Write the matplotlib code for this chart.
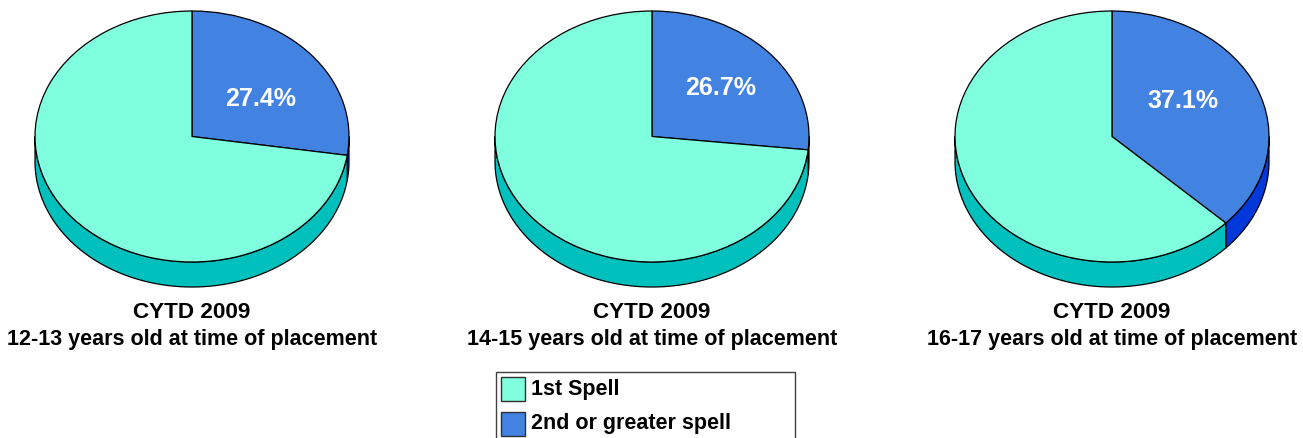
import numpy as np
import matplotlib
matplotlib.use("Agg")
import matplotlib.pyplot as plt
from matplotlib.patches import Rectangle, Polygon

plt.rcParams['font.family'] = ['Liberation Sans', 'DejaVu Sans']

# ---- data ----
categories = ["1st Spell", "2nd or greater spell"]
second_spell_pct = [27.4, 26.7, 37.1]
first_spell_pct = [100 - v for v in second_spell_pct]
titles = ["CYTD 2009", "CYTD 2009", "CYTD 2009"]
subtitles = ["12-13 years old at time of placement",
             "14-15 years old at time of placement",
             "16-17 years old at time of placement"]

top_colors = {"1st Spell": "#80FFDE", "2nd or greater spell": "#4282E0"}
side_colors = {"1st Spell": "#00C0BE", "2nd or greater spell": "#0038DC"}

# ---- layout (pixels) ----
W, H = 1303, 438
fig = plt.figure(figsize=(W / 100, H / 100), dpi=100)

centers_x = [192, 652, 1112]
cy = 136.5
rx, ry = 157.0, 125.5
depth = 25.0 / ry
label_pos = [(0.44, 0.30), (0.435, 0.385), (0.45, 0.28)]  # in pie units

ax_w_px = 340
ax_top_px, ax_bot_px = 5, 300

def side_polygon(ax, a1, a2, color):
    lo, hi = max(a1, -180), min(a2, 0)
    if hi <= lo:
        return
    t = np.radians(np.linspace(lo, hi, 200))
    top = np.column_stack([np.cos(t), np.sin(t)])
    bot = np.column_stack([np.cos(t[::-1]), np.sin(t[::-1]) - depth])
    pts = np.vstack([top, bot])
    ax.add_patch(Polygon(pts, closed=True, facecolor=color, edgecolor="black",
                         linewidth=0.9, zorder=0.5))

for i, cx in enumerate(centers_x):
    left = (cx - ax_w_px / 2) / W
    bottom = 1 - ax_bot_px / H
    ax = fig.add_axes([left, bottom, ax_w_px / W, (ax_bot_px - ax_top_px) / H])
    vals = [second_spell_pct[i], first_spell_pct[i]]
    cats = [categories[1], categories[0]]
    ax.pie(vals, colors=[top_colors[c] for c in cats], startangle=90,
           counterclock=False, radius=1.0,
           wedgeprops=dict(edgecolor="black", linewidth=0.9))
    # sides
    frac = vals[0] / 100.0
    a_split = 90 - 360 * frac
    side_polygon(ax, a_split, 90, side_colors[cats[0]])
    side_polygon(ax, -270, a_split, side_colors[cats[1]])
    ax.set_aspect('auto')
    half = ax_w_px / 2 / rx
    ax.set_xlim(-half, half)
    ax.set_ylim(-(ax_bot_px - cy) / ry, (cy - ax_top_px) / ry)
    ax.axis('off')
    lx, ly = label_pos[i]
    ax.text(lx, ly, f"{second_spell_pct[i]:.1f}%", color="white",
            fontsize=18, fontweight="bold", ha="center", va="center", zorder=5)

# overlay for text and legend
ov = fig.add_axes([0, 0, 1, 1])
ov.set_xlim(0, W)
ov.set_ylim(H, 0)
ov.axis('off')
for i, cx in enumerate(centers_x):
    ov.text(cx, 313, titles[i], fontsize=16.2, fontweight="bold",
            ha="center", va="center")
    ov.text(cx, 339, subtitles[i], fontsize=15.5, fontweight="bold",
            ha="center", va="center")

ov.add_patch(Rectangle((496, 372), 299, 80, facecolor="white",
                       edgecolor="#404040", linewidth=1.0, clip_on=False))
for j, c in enumerate(categories):
    y0 = 377 + j * 35
    ov.add_patch(Rectangle((501, y0), 24, 24, facecolor=top_colors[c],
                           edgecolor="#303030", linewidth=1.0))
    ov.text(531, y0 + 12, c, fontsize=15.5, fontweight="bold",
            ha="left", va="center")

fig.savefig("out.png", dpi=100)
